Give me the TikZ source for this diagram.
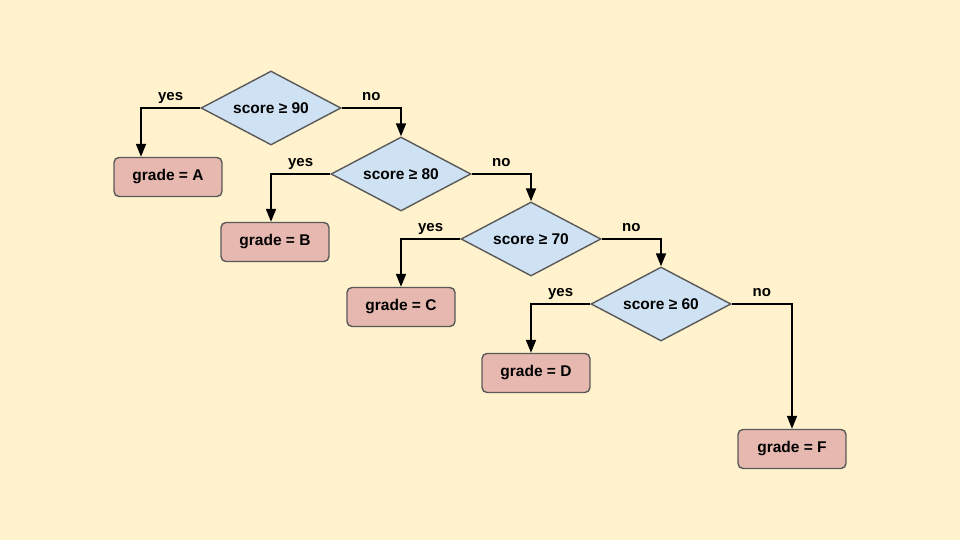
\documentclass[tikz,border=0pt]{standalone}
\usepackage{fontspec}
\setmainfont{Liberation Sans}
\usepackage{tikz}
\usetikzlibrary{arrows.meta,shapes.geometric,positioning}

\definecolor{paper}{HTML}{FFF2CC}
\definecolor{testfill}{HTML}{CFE2F3}
\definecolor{gradefill}{HTML}{E6B8AF}
\definecolor{edge}{HTML}{595959}

\begin{document}
\begin{tikzpicture}[x=1pt,y=-1pt]
\tikzstyle{test}=[diamond, draw=edge, fill=testfill, line width=1.4pt, aspect=1.9, inner sep=0pt, minimum width=140pt, minimum height=74pt, font=\bfseries\fontsize{15.5}{17}\selectfont]
\tikzstyle{grade}=[rectangle, rounded corners=5pt, draw=edge, fill=gradefill, line width=1.4pt, minimum width=108pt, minimum height=39pt, font=\bfseries\fontsize{15.5}{17}\selectfont]
\tikzstyle{branch}=[-{Triangle[length=13pt,width=10pt]}, line width=1.8pt, black]
\tikzstyle{lbl}=[font=\bfseries\fontsize{15}{17}\selectfont, inner sep=2pt, text height=1.5ex, text depth=0.3ex]
\fill[paper] (0,0) rectangle (960,540);
\useasboundingbox (0,0) rectangle (960,540);
% tests
\node[test] (s90) at (271,108) {score ≥ 90};
\node[test] (s80) at (401,174) {score ≥ 80};
\node[test] (s70) at (531,239) {score ≥ 70};
\node[test] (s60) at (661,304) {score ≥ 60};
% grades
\node[grade] (ga) at (168,177) {grade = A};
\node[grade] (gb) at (275,242) {grade = B};
\node[grade] (gc) at (401,307) {grade = C};
\node[grade] (gd) at (536,373) {grade = D};
\node[grade] (gf) at (792,449) {grade = F};
% branches
\draw[branch] (s90.west) -| node[lbl,pos=0.25,above=3pt] {yes} ([xshift=-27pt]ga.north);
\draw[branch] (s90.east) -| node[lbl,pos=0.25,above=3pt] {no} (s80.north);
\draw[branch] (s80.west) -| node[lbl,pos=0.25,above=3pt] {yes} ([xshift=-4pt]gb.north);
\draw[branch] (s80.east) -| node[lbl,pos=0.25,above=3pt] {no} (s70.north);
\draw[branch] (s70.west) -| node[lbl,pos=0.25,above=3pt] {yes} (gc.north);
\draw[branch] (s70.east) -| node[lbl,pos=0.25,above=3pt] {no} (s60.north);
\draw[branch] (s60.west) -| node[lbl,pos=0.25,above=3pt] {yes} ([xshift=-5pt]gd.north);
\draw[branch] (s60.east) -| node[lbl,pos=0.25,above=3pt] {no} (gf.north);
\end{tikzpicture}
\end{document}
